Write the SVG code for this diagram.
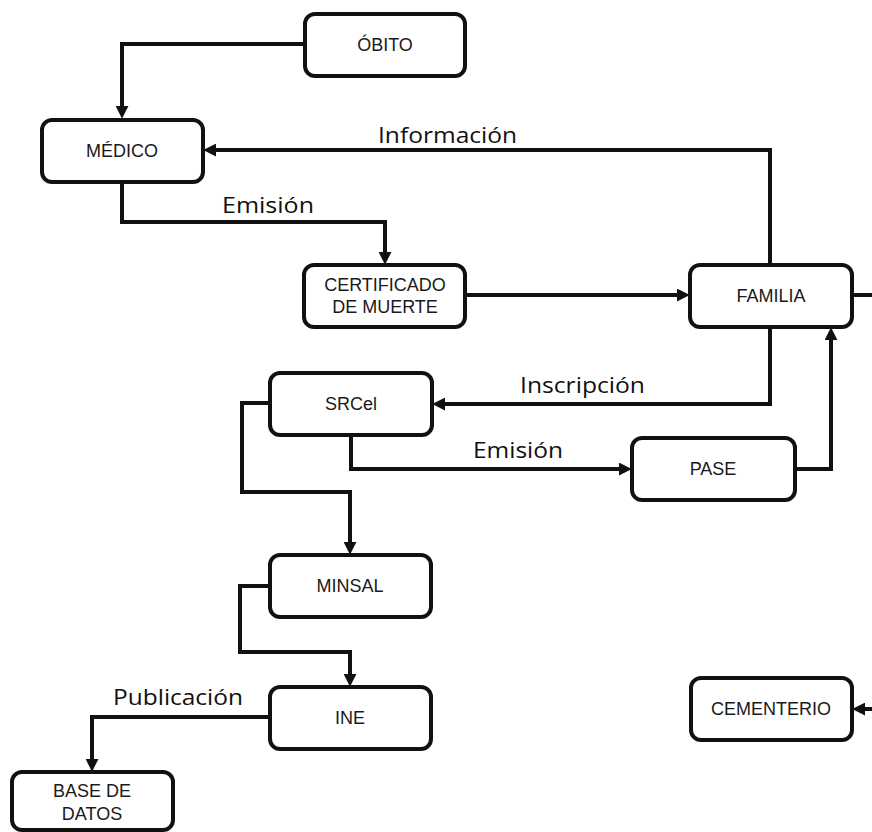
<svg xmlns="http://www.w3.org/2000/svg" width="872" height="832" viewBox="0 0 872 832">
<style>
.box{fill:#fff;stroke:#111;stroke-width:4}
.t{font-family:"Liberation Sans",Arial,sans-serif;font-size:18px;fill:#1a1a1a;text-anchor:middle}
.lbl{font-family:"Open Sans","Noto Sans",sans-serif;font-size:22.5px;fill:#111}
.c{fill:none;stroke:#111;stroke-width:4;marker-end:url(#ah)}
.n{fill:none;stroke:#111;stroke-width:4}
</style>
<defs>
<marker id="ah" markerUnits="userSpaceOnUse" markerWidth="13" markerHeight="13" viewBox="0 0 12 12" refX="2" refY="6" orient="auto">
<path d="M0,0 L12,6 L0,12 z" fill="#111"/>
</marker>
</defs>
<rect width="872" height="832" fill="#fff"/>
<g id="connectors">
<path class="c" d="M305,44 H122 V108"/>
<path class="c" d="M770,265 V150 H214"/>
<path class="c" d="M122,183 V222 H385 V254"/>
<path class="c" d="M466,295 H679"/>
<path class="c" d="M770,328 V404 H443"/>
<path class="c" d="M351,436 V469 H621"/>
<path class="c" d="M796,469 H831 V338"/>
<path class="c" d="M270,403 H242 V492 H350 V544"/>
<path class="c" d="M270,586 H240 V652 H350 V676"/>
<path class="c" d="M269,717 H92 V761"/>
<path class="n" d="M853,295 H874"/>
<path class="c" d="M874,709 H863"/>
<text class="lbl" x="378" y="143" textLength="139" lengthAdjust="spacingAndGlyphs">Información</text>
<text class="lbl" x="222" y="213" textLength="92" lengthAdjust="spacingAndGlyphs">Emisión</text>
<text class="lbl" x="520" y="393" textLength="125" lengthAdjust="spacingAndGlyphs">Inscripción</text>
<text class="lbl" x="473" y="458" textLength="90" lengthAdjust="spacingAndGlyphs">Emisión</text>
<text class="lbl" x="113" y="705" textLength="130" lengthAdjust="spacingAndGlyphs">Publicación</text>
</g>
<g id="obito"><rect class="box" x="305" y="14" width="160" height="62" rx="10"/><text class="t" x="385" y="51">ÓBITO</text></g>
<g id="medico"><rect class="box" x="42" y="120" width="161" height="62" rx="10"/><text class="t" x="122" y="157">MÉDICO</text></g>
<g id="certificado"><rect class="box" x="304" y="265" width="161" height="62" rx="10"/><text class="t" x="385" y="291">CERTIFICADO</text><text class="t" x="385" y="313">DE MUERTE</text></g>
<g id="familia"><rect class="box" x="690" y="265" width="162" height="62" rx="10"/><text class="t" x="771" y="302">FAMILIA</text></g>
<g id="srcel"><rect class="box" x="270" y="373" width="162" height="62" rx="10"/><text class="t" x="351" y="410">SRCel</text></g>
<g id="pase"><rect class="box" x="632" y="438" width="163" height="62" rx="10"/><text class="t" x="713" y="475">PASE</text></g>
<g id="minsal"><rect class="box" x="270" y="555" width="161" height="62" rx="10"/><text class="t" x="350" y="592">MINSAL</text></g>
<g id="ine"><rect class="box" x="270" y="687" width="161" height="62" rx="10"/><text class="t" x="350" y="724">INE</text></g>
<g id="base"><rect class="box" x="12" y="772" width="161" height="58" rx="10"/><text class="t" x="92" y="797">BASE DE</text><text class="t" x="92" y="820">DATOS</text></g>
<g id="cementerio"><rect class="box" x="691" y="678" width="161" height="62" rx="10"/><text class="t" x="771" y="715">CEMENTERIO</text></g>
</svg>
